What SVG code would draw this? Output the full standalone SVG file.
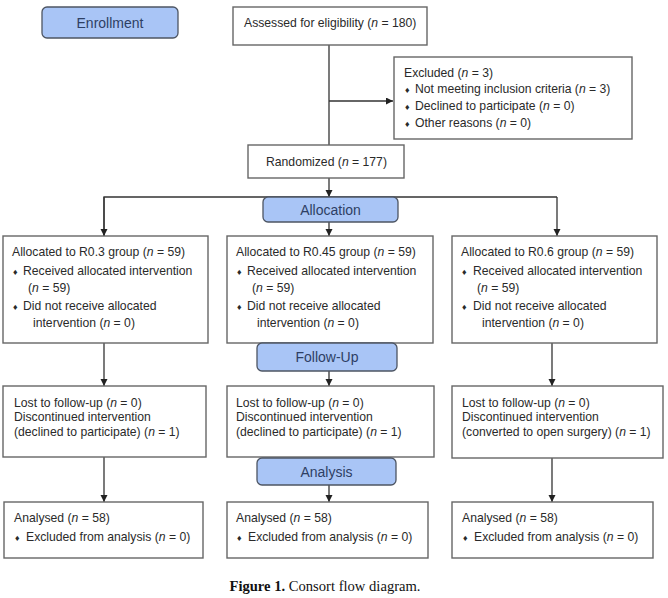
<svg xmlns="http://www.w3.org/2000/svg" width="668" height="598" viewBox="0 0 668 598">
<defs>
<marker id="ah" markerUnits="userSpaceOnUse" markerWidth="8" markerHeight="8" refX="7" refY="3.5" orient="auto">
<path d="M0,0 L7,3.5 L0,7 Z" fill="#222"/>
</marker>
</defs>
<style>
.box{fill:#fff;stroke:#666;stroke-width:1.4}
.hd{fill:#a9c5f6;stroke:#4d5563;stroke-width:1.3}
.ht{font-family:"Liberation Sans",Arial,sans-serif;font-size:14px;fill:#2e3f64;text-anchor:middle}
.t{font-family:"Liberation Sans",Arial,sans-serif;font-size:12.2px;fill:#2a2a2a}
.b{font-size:9px}
.i{font-style:italic}
.c{stroke:#333;stroke-width:1.3;fill:none}
.a{marker-end:url(#ah)}
.cap{font-family:"Liberation Serif","Times New Roman",serif;font-size:14.6px;fill:#111;text-anchor:middle}
</style>
<rect width="668" height="598" fill="#fff"/>
<g id="connectors">
<line class="c" x1="329" y1="45" x2="329" y2="145"/>
<line class="c a" x1="329" y1="101" x2="393" y2="101"/>
<line class="c a" x1="329" y1="178" x2="329" y2="197"/>
<polyline class="c" points="104,236 104,197 557,197"/>
<line class="c a" x1="104" y1="197" x2="104" y2="236"/>
<line class="c a" x1="557" y1="197" x2="557" y2="236"/>
<line class="c a" x1="329" y1="222" x2="329" y2="236"/>
<line class="c a" x1="104" y1="343" x2="104" y2="386"/>
<line class="c a" x1="329" y1="371" x2="329" y2="386"/>
<line class="c a" x1="552" y1="343" x2="552" y2="386"/>
<line class="c a" x1="104" y1="457" x2="104" y2="502"/>
<line class="c a" x1="329" y1="485" x2="329" y2="502"/>
<line class="c a" x1="552" y1="458" x2="552" y2="502"/>
</g>
<g id="enrollment">
<rect class="hd" x="42" y="7" width="136" height="31" rx="5"/>
<text class="ht" x="110" y="27.5">Enrollment</text>
</g>
<g id="assessed">
<rect class="box" x="233" y="7" width="194" height="38"/>
<text class="t" x="244" y="27">Assessed for eligibility (<tspan class="i">n</tspan> = 180)</text>
</g>
<g id="excluded">
<rect class="box" x="394" y="57" width="238" height="82"/>
<text class="t" x="404" y="77">Excluded (<tspan class="i">n</tspan> = 3)</text>
<text class="t b" x="405" y="93">♦</text><text class="t" x="415" y="93">Not meeting inclusion criteria (<tspan class="i">n</tspan> = 3)</text>
<text class="t b" x="405" y="110">♦</text><text class="t" x="415" y="110">Declined to participate (<tspan class="i">n</tspan> = 0)</text>
<text class="t b" x="405" y="127">♦</text><text class="t" x="415" y="127">Other reasons (<tspan class="i">n</tspan> = 0)</text>
</g>
<g id="randomized">
<rect class="box" x="248" y="145" width="156" height="33"/>
<text class="t" x="266" y="166">Randomized (<tspan class="i">n</tspan> = 177)</text>
</g>
<g id="allocation">
<rect class="hd" x="263" y="197" width="135" height="25" rx="5"/>
<text class="ht" x="330.5" y="214.5">Allocation</text>
</g>
<g id="alloc-r03">
<rect class="box" x="3" y="236" width="205" height="107"/>
<text class="t" x="12" y="256">Allocated to R0.3 group (<tspan class="i">n</tspan> = 59)</text>
<text class="t b" x="13" y="275">♦</text><text class="t" x="23" y="275">Received allocated intervention</text>
<text class="t" x="28" y="292">(<tspan class="i">n</tspan> = 59)</text>
<text class="t b" x="13" y="310">♦</text><text class="t" x="23" y="310">Did not receive allocated</text>
<text class="t" x="33" y="327">intervention (<tspan class="i">n</tspan> = 0)</text>
</g>
<g id="alloc-r045">
<rect class="box" x="227" y="236" width="206" height="107"/>
<text class="t" x="236" y="256">Allocated to R0.45 group (<tspan class="i">n</tspan> = 59)</text>
<text class="t b" x="237" y="275">♦</text><text class="t" x="247" y="275">Received allocated intervention</text>
<text class="t" x="252" y="292">(<tspan class="i">n</tspan> = 59)</text>
<text class="t b" x="237" y="310">♦</text><text class="t" x="247" y="310">Did not receive allocated</text>
<text class="t" x="257" y="327">intervention (<tspan class="i">n</tspan> = 0)</text>
</g>
<g id="alloc-r06">
<rect class="box" x="452" y="236" width="205" height="107"/>
<text class="t" x="461" y="256">Allocated to R0.6 group (<tspan class="i">n</tspan> = 59)</text>
<text class="t b" x="462" y="275">♦</text><text class="t" x="473" y="275">Received allocated intervention</text>
<text class="t" x="477" y="292">(<tspan class="i">n</tspan> = 59)</text>
<text class="t b" x="462" y="310">♦</text><text class="t" x="473" y="310">Did not receive allocated</text>
<text class="t" x="482" y="327">intervention (<tspan class="i">n</tspan> = 0)</text>
</g>
<g id="followup">
<rect class="hd" x="257" y="343" width="140" height="28" rx="5"/>
<text class="ht" x="327" y="362">Follow-Up</text>
</g>
<g id="lost-r03">
<rect class="box" x="3" y="386" width="203" height="71"/>
<text class="t" x="14" y="407">Lost to follow-up (<tspan class="i">n</tspan> = 0)</text>
<text class="t" x="14" y="421">Discontinued intervention</text>
<text class="t" x="14" y="436">(declined to participate) (<tspan class="i">n</tspan> = 1)</text>
</g>
<g id="lost-r045">
<rect class="box" x="227" y="386" width="207" height="71"/>
<text class="t" x="236" y="407">Lost to follow-up (<tspan class="i">n</tspan> = 0)</text>
<text class="t" x="236" y="421">Discontinued intervention</text>
<text class="t" x="236" y="436">(declined to participate) (<tspan class="i">n</tspan> = 1)</text>
</g>
<g id="lost-r06">
<rect class="box" x="452" y="386" width="211" height="72"/>
<text class="t" x="462" y="407">Lost to follow-up (<tspan class="i">n</tspan> = 0)</text>
<text class="t" x="462" y="421">Discontinued intervention</text>
<text class="t" x="462" y="436">(converted to open surgery) (<tspan class="i">n</tspan> = 1)</text>
</g>
<g id="analysis">
<rect class="hd" x="257" y="458" width="139" height="27" rx="5"/>
<text class="ht" x="326.5" y="476.5">Analysis</text>
</g>
<g id="analysed-r03">
<rect class="box" x="4" y="502" width="199" height="56"/>
<text class="t" x="14" y="522">Analysed (<tspan class="i">n</tspan> = 58)</text>
<text class="t b" x="15" y="541">♦</text><text class="t" x="26" y="541">Excluded from analysis (<tspan class="i">n</tspan> = 0)</text>
</g>
<g id="analysed-r045">
<rect class="box" x="227" y="502" width="201" height="56"/>
<text class="t" x="236" y="522">Analysed (<tspan class="i">n</tspan> = 58)</text>
<text class="t b" x="237" y="541">♦</text><text class="t" x="248" y="541">Excluded from analysis (<tspan class="i">n</tspan> = 0)</text>
</g>
<g id="analysed-r06">
<rect class="box" x="452" y="502" width="201" height="56"/>
<text class="t" x="462" y="522">Analysed (<tspan class="i">n</tspan> = 58)</text>
<text class="t b" x="463" y="541">♦</text><text class="t" x="474" y="541">Excluded from analysis (<tspan class="i">n</tspan> = 0)</text>
</g>
<text class="cap" x="325" y="591"><tspan font-weight="bold">Figure 1.</tspan> Consort flow diagram.</text>
</svg>
